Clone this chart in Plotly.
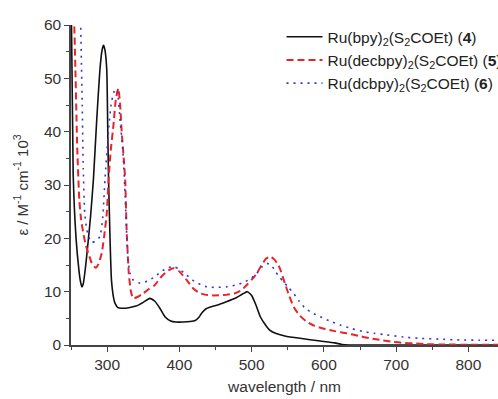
import plotly.graph_objects as go

# Absorption spectra (epsilon in 10^3 M^-1 cm^-1) versus wavelength (nm)
wl_4 = [250, 253, 257, 261, 263, 265, 267, 270, 273, 277, 281, 285.6, 290, 293, 295, 297,
        299.5, 301, 302, 304, 306, 309, 311, 315, 320, 330, 340, 350, 359, 366, 373, 380,
        388, 395, 405, 415, 422, 427, 431, 437, 442, 455, 465, 478, 488, 494, 500, 506,
        512, 519, 525, 533, 546, 567, 595, 615, 625, 635, 700, 850]
eps_4 = [68, 32, 20, 14, 12, 10.9, 11.5, 14.5, 18.4, 24, 31, 42.2, 51.6, 55.3, 56.2, 55.3,
         51.6, 39, 31, 20, 12.2, 8.8, 7.8, 7.0, 6.9, 7.0, 7.3, 8.0, 8.75, 8.2, 6.9, 5.3,
         4.5, 4.3, 4.3, 4.4, 4.6, 5.2, 6.0, 6.8, 7.1, 7.6, 8.1, 8.8, 9.6, 10.0, 9.3, 7.5,
         5.3, 3.8, 2.8, 2.2, 1.7, 1.25, 0.75, 0.4, 0.1, 0, 0, 0]

wl_5 = [250, 254, 256, 258.7, 261.5, 264, 267, 270, 274, 279, 284, 288, 292.5, 296, 299.5,
        302, 305, 308.6, 312, 315.5, 318, 320, 323, 325, 327, 330, 333, 336, 342, 350, 358,
        366, 375, 385, 392, 400, 410, 420, 428.6, 437, 447, 465, 477, 486, 495, 501, 507,
        514, 520, 525.5, 531, 536, 539, 546, 552, 558, 566, 576, 587, 599, 615, 632, 648,
        664, 680, 696, 710, 724, 740, 760, 800, 850]
eps_5 = [70, 62, 52, 36.6, 27.2, 23.5, 21, 19, 17.2, 15.3, 14.5, 15.2, 17.2, 20.5, 24.7,
         31, 36.5, 41, 46, 48.1, 45, 40.3, 35, 31, 21.6, 13.4, 10, 8.75, 9, 9.7, 10.5,
         11.25, 12.8, 14, 14.4, 13.8, 12.2, 10.5, 9.7, 9.4, 9.3, 9.4, 9.7, 10.3, 11.5, 12.4, 13.4,
         15, 16.2, 16.6, 16.1, 15.2, 14.4, 11.6, 9.2, 7.2, 5.6, 4.4, 3.6, 3.1, 2.6, 2.2, 1.7,
         1.25, 0.9, 0.6, 0.4, 0.3, 0.15, 0.1, 0.05, 0.05]

wl_6 = [263.5, 265.5, 267, 269, 272, 276, 279, 284, 290, 294, 297, 302, 306, 311, 314, 318,
        322, 325, 327, 329, 332, 336, 345.5, 356, 366, 375, 385, 392, 400, 410, 420, 430,
        438, 450, 465, 477, 488.6, 498, 507, 514, 521, 527, 533, 538, 544, 551, 558, 566,
        574, 584, 595, 608, 622.5, 638, 655, 670, 687, 710, 733, 760, 789, 815, 850]
eps_6 = [59.5, 45, 33, 24.7, 21.5, 19.8, 19.2, 19.5, 20.3, 24, 31, 40.3, 45.5, 48, 47.5, 42,
         36, 27.8, 21, 15.9, 13.3, 12.2, 11.6, 12, 12.8, 13.8, 14.5, 14.7, 14.2, 13.1, 12, 11.3,
         10.9, 10.8, 10.9, 11.2, 11.7, 12.4, 13.4, 14.6, 15.3, 15, 13.8, 12.8, 11.9, 10.8, 9.7, 8.2,
         6.9, 6, 5.3, 4.5, 3.75, 3.1, 2.5, 2.2, 1.9, 1.5, 1.25, 1.1, 0.94, 0.9, 0.9]

names = ["Ru(bpy)<sub>2</sub>(S<sub>2</sub>COEt) (<b>4</b>)",
         "Ru(decbpy)<sub>2</sub>(S<sub>2</sub>COEt) (<b>5</b>)",
         "Ru(dcbpy)<sub>2</sub>(S<sub>2</sub>COEt) (<b>6</b>)"]

FONT = "Liberation Sans, Arial, sans-serif"

fig = go.Figure()
fig.add_trace(go.Scatter(x=wl_4, y=eps_4, mode="lines", name=names[0],
                         line=dict(color="#111111", width=1.6, shape="spline", smoothing=0.5)))
fig.add_trace(go.Scatter(x=wl_5, y=eps_5, mode="lines", name=names[1],
                         line=dict(color="#e8232a", width=2, dash="7px,4px",
                                   shape="spline", smoothing=0.5)))
fig.add_trace(go.Scatter(x=wl_6, y=eps_6, mode="lines", name=names[2],
                         line=dict(color="#3535d0", width=1.6, dash="2px,5px",
                                   shape="spline", smoothing=0.5)))

axis_common = dict(
    showline=True, linecolor="#444444", linewidth=1.5,
    ticks="outside", ticklen=5, tickwidth=1.3, tickcolor="#444444",
    showgrid=False, zeroline=False,
    tickfont=dict(family=FONT, size=15.5, color="#333333"),
)

fig.update_xaxes(
    range=[250, 841], tickvals=[300, 400, 500, 600, 700, 800],
    minor=dict(ticks="outside", ticklen=3, tickwidth=1.2, tickcolor="#444444", dtick=50, tick0=0),
    title=dict(text="wavelength / nm", font=dict(family=FONT, size=15.5, color="#333333"), standoff=9),
    **axis_common,
)
fig.update_yaxes(
    range=[0, 60], tickvals=[0, 10, 20, 30, 40, 50, 60],
    minor=dict(ticks="outside", ticklen=3, tickwidth=1.2, tickcolor="#444444", dtick=5, tick0=0),
    title=dict(text="ε / M<sup>-1</sup> cm<sup>-1</sup> 10<sup>3</sup>",
               font=dict(family=FONT, size=15, color="#333333"), standoff=12),
    **axis_common,
)

fig.update_layout(
    width=498, height=399,
    margin=dict(l=71, r=0, t=25, b=54, autoexpand=False),
    plot_bgcolor="white", paper_bgcolor="white",
    showlegend=True,
    legend=dict(x=0.493, y=1.015, xanchor="left", yanchor="top",
                bgcolor="rgba(0,0,0,0)", borderwidth=0,
                font=dict(family=FONT, size=15.5, color="#222222"),
                tracegroupgap=0, itemwidth=36),
)

fig.write_html("out.html")
